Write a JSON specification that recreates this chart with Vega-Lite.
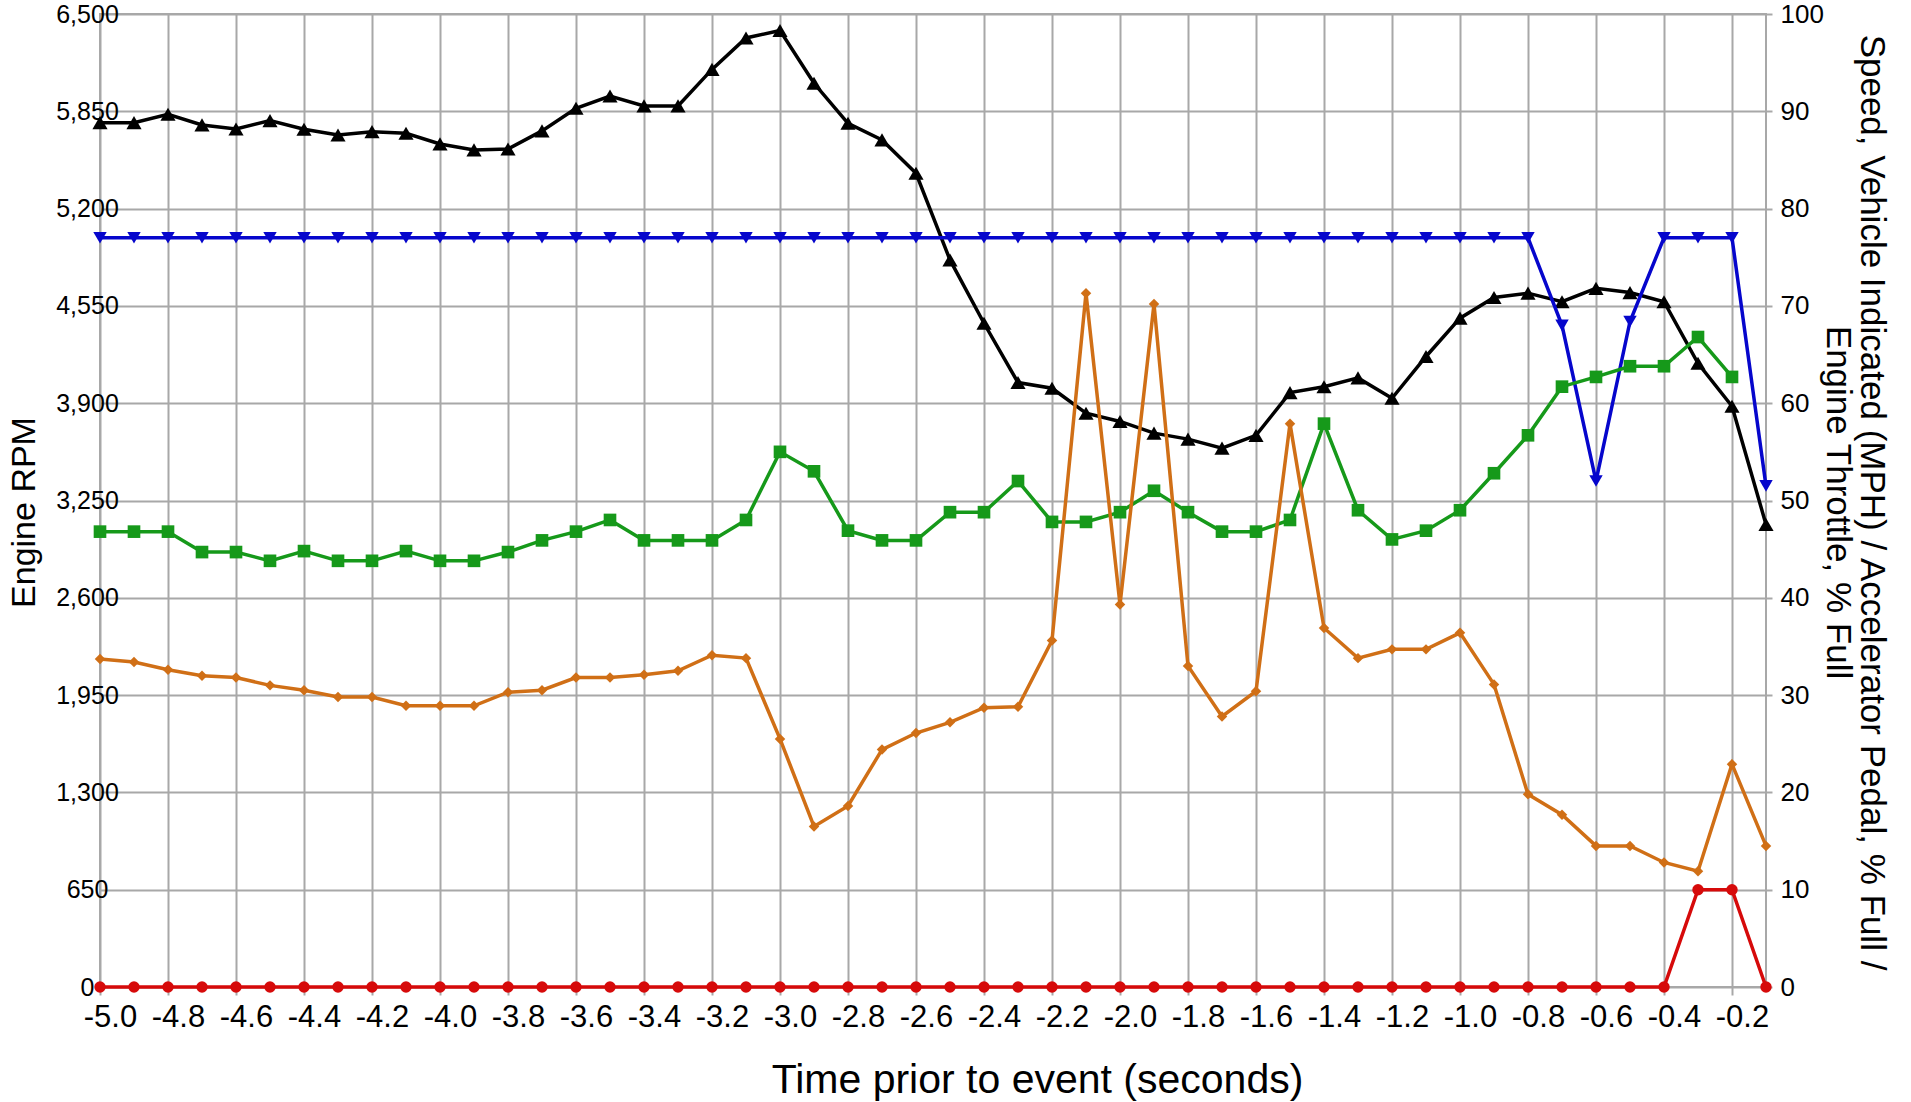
{
  "$schema": "https://vega.github.io/schema/vega-lite/v6.json",
  "width": 1666,
  "height": 973,
  "autosize": {"type": "none"},
  "padding": {"left": 100, "top": 14, "right": 145, "bottom": 115},
  "background": "white",
  "config": {
    "view": {"stroke": "#a8a8a8", "strokeWidth": 2},
    "axis": {
      "labelFont": "Liberation Sans Narrow, Liberation Sans",
      "titleFont": "Liberation Sans",
      "labelColor": "#000000",
      "titleColor": "#000000",
      "titleFontWeight": "normal",
      "domain": false,
      "gridColor": "#a8a8a8",
      "gridWidth": 2,
      "gridOpacity": 1,
      "tickColor": "#a8a8a8",
      "tickWidth": 2
    }
  },
  "datasets": {
    "rpm": [
      {"t": -5.0, "v": 5774}, {"t": -4.9, "v": 5774}, {"t": -4.8, "v": 5830}, {"t": -4.7, "v": 5759}, {"t": -4.6, "v": 5732},
      {"t": -4.5, "v": 5788}, {"t": -4.4, "v": 5730}, {"t": -4.3, "v": 5692}, {"t": -4.2, "v": 5714}, {"t": -4.1, "v": 5703},
      {"t": -4.0, "v": 5632}, {"t": -3.9, "v": 5592}, {"t": -3.8, "v": 5598}, {"t": -3.7, "v": 5719}, {"t": -3.6, "v": 5870},
      {"t": -3.5, "v": 5952}, {"t": -3.4, "v": 5886}, {"t": -3.3, "v": 5886}, {"t": -3.2, "v": 6130}, {"t": -3.1, "v": 6340},
      {"t": -3.0, "v": 6390}, {"t": -2.9, "v": 6037}, {"t": -2.8, "v": 5770}, {"t": -2.7, "v": 5659}, {"t": -2.6, "v": 5436},
      {"t": -2.5, "v": 4857}, {"t": -2.4, "v": 4434}, {"t": -2.3, "v": 4038}, {"t": -2.2, "v": 4000}, {"t": -2.1, "v": 3833},
      {"t": -2.0, "v": 3778}, {"t": -1.9, "v": 3700}, {"t": -1.8, "v": 3660}, {"t": -1.7, "v": 3600}, {"t": -1.6, "v": 3685},
      {"t": -1.5, "v": 3971}, {"t": -1.4, "v": 4010}, {"t": -1.3, "v": 4069}, {"t": -1.2, "v": 3933}, {"t": -1.1, "v": 4212},
      {"t": -1.0, "v": 4468}, {"t": -0.9, "v": 4606}, {"t": -0.8, "v": 4635}, {"t": -0.7, "v": 4578}, {"t": -0.6, "v": 4667},
      {"t": -0.5, "v": 4639}, {"t": -0.4, "v": 4578}, {"t": -0.3, "v": 4167}, {"t": -0.2, "v": 3880}, {"t": -0.1, "v": 3090}
    ],
    "speed": [
      {"t": -5.0, "v": 77}, {"t": -4.9, "v": 77}, {"t": -4.8, "v": 77}, {"t": -4.7, "v": 77}, {"t": -4.6, "v": 77},
      {"t": -4.5, "v": 77}, {"t": -4.4, "v": 77}, {"t": -4.3, "v": 77}, {"t": -4.2, "v": 77}, {"t": -4.1, "v": 77},
      {"t": -4.0, "v": 77}, {"t": -3.9, "v": 77}, {"t": -3.8, "v": 77}, {"t": -3.7, "v": 77}, {"t": -3.6, "v": 77},
      {"t": -3.5, "v": 77}, {"t": -3.4, "v": 77}, {"t": -3.3, "v": 77}, {"t": -3.2, "v": 77}, {"t": -3.1, "v": 77},
      {"t": -3.0, "v": 77}, {"t": -2.9, "v": 77}, {"t": -2.8, "v": 77}, {"t": -2.7, "v": 77}, {"t": -2.6, "v": 77},
      {"t": -2.5, "v": 77}, {"t": -2.4, "v": 77}, {"t": -2.3, "v": 77}, {"t": -2.2, "v": 77}, {"t": -2.1, "v": 77},
      {"t": -2.0, "v": 77}, {"t": -1.9, "v": 77}, {"t": -1.8, "v": 77}, {"t": -1.7, "v": 77}, {"t": -1.6, "v": 77},
      {"t": -1.5, "v": 77}, {"t": -1.4, "v": 77}, {"t": -1.3, "v": 77}, {"t": -1.2, "v": 77}, {"t": -1.1, "v": 77},
      {"t": -1.0, "v": 77}, {"t": -0.9, "v": 77}, {"t": -0.8, "v": 77}, {"t": -0.7, "v": 68}, {"t": -0.6, "v": 52},
      {"t": -0.5, "v": 68.4}, {"t": -0.4, "v": 77}, {"t": -0.3, "v": 77}, {"t": -0.2, "v": 77}, {"t": -0.1, "v": 51.5}
    ],
    "pedal": [
      {"t": -5.0, "v": 46.8}, {"t": -4.9, "v": 46.8}, {"t": -4.8, "v": 46.8}, {"t": -4.7, "v": 44.7}, {"t": -4.6, "v": 44.7},
      {"t": -4.5, "v": 43.8}, {"t": -4.4, "v": 44.8}, {"t": -4.3, "v": 43.8}, {"t": -4.2, "v": 43.8}, {"t": -4.1, "v": 44.8},
      {"t": -4.0, "v": 43.8}, {"t": -3.9, "v": 43.8}, {"t": -3.8, "v": 44.7}, {"t": -3.7, "v": 45.9}, {"t": -3.6, "v": 46.8},
      {"t": -3.5, "v": 48.0}, {"t": -3.4, "v": 45.9}, {"t": -3.3, "v": 45.9}, {"t": -3.2, "v": 45.9}, {"t": -3.1, "v": 48.0},
      {"t": -3.0, "v": 55.0}, {"t": -2.9, "v": 53.0}, {"t": -2.8, "v": 46.9}, {"t": -2.7, "v": 45.9}, {"t": -2.6, "v": 45.9},
      {"t": -2.5, "v": 48.8}, {"t": -2.4, "v": 48.8}, {"t": -2.3, "v": 52.0}, {"t": -2.2, "v": 47.8}, {"t": -2.1, "v": 47.8},
      {"t": -2.0, "v": 48.8}, {"t": -1.9, "v": 51.0}, {"t": -1.8, "v": 48.8}, {"t": -1.7, "v": 46.8}, {"t": -1.6, "v": 46.8},
      {"t": -1.5, "v": 48.0}, {"t": -1.4, "v": 57.9}, {"t": -1.3, "v": 49.0}, {"t": -1.2, "v": 46.0}, {"t": -1.1, "v": 46.9},
      {"t": -1.0, "v": 49.0}, {"t": -0.9, "v": 52.8}, {"t": -0.8, "v": 56.7}, {"t": -0.7, "v": 61.7}, {"t": -0.6, "v": 62.7},
      {"t": -0.5, "v": 63.8}, {"t": -0.4, "v": 63.8}, {"t": -0.3, "v": 66.8}, {"t": -0.2, "v": 62.7}
    ],
    "throttle": [
      {"t": -5.0, "v": 33.7}, {"t": -4.9, "v": 33.4}, {"t": -4.8, "v": 32.6}, {"t": -4.7, "v": 32.0}, {"t": -4.6, "v": 31.8},
      {"t": -4.5, "v": 31.0}, {"t": -4.4, "v": 30.5}, {"t": -4.3, "v": 29.8}, {"t": -4.2, "v": 29.8}, {"t": -4.1, "v": 28.9},
      {"t": -4.0, "v": 28.9}, {"t": -3.9, "v": 28.9}, {"t": -3.8, "v": 30.3}, {"t": -3.7, "v": 30.5}, {"t": -3.6, "v": 31.8},
      {"t": -3.5, "v": 31.8}, {"t": -3.4, "v": 32.1}, {"t": -3.3, "v": 32.5}, {"t": -3.2, "v": 34.1}, {"t": -3.1, "v": 33.8},
      {"t": -3.0, "v": 25.5}, {"t": -2.9, "v": 16.5}, {"t": -2.8, "v": 18.6}, {"t": -2.7, "v": 24.4}, {"t": -2.6, "v": 26.1},
      {"t": -2.5, "v": 27.2}, {"t": -2.4, "v": 28.7}, {"t": -2.3, "v": 28.8}, {"t": -2.2, "v": 35.6}, {"t": -2.1, "v": 71.3},
      {"t": -2.0, "v": 39.3}, {"t": -1.9, "v": 70.2}, {"t": -1.8, "v": 33.0}, {"t": -1.7, "v": 27.8}, {"t": -1.6, "v": 30.4},
      {"t": -1.5, "v": 57.9}, {"t": -1.4, "v": 36.9}, {"t": -1.3, "v": 33.8}, {"t": -1.2, "v": 34.7}, {"t": -1.1, "v": 34.7},
      {"t": -1.0, "v": 36.4}, {"t": -0.9, "v": 31.1}, {"t": -0.8, "v": 19.8}, {"t": -0.7, "v": 17.7}, {"t": -0.6, "v": 14.5},
      {"t": -0.5, "v": 14.5}, {"t": -0.4, "v": 12.8}, {"t": -0.3, "v": 11.9}, {"t": -0.2, "v": 22.9}, {"t": -0.1, "v": 14.5}
    ],
    "brake": [
      {"t": -5.0, "v": 0}, {"t": -4.9, "v": 0}, {"t": -4.8, "v": 0}, {"t": -4.7, "v": 0}, {"t": -4.6, "v": 0},
      {"t": -4.5, "v": 0}, {"t": -4.4, "v": 0}, {"t": -4.3, "v": 0}, {"t": -4.2, "v": 0}, {"t": -4.1, "v": 0},
      {"t": -4.0, "v": 0}, {"t": -3.9, "v": 0}, {"t": -3.8, "v": 0}, {"t": -3.7, "v": 0}, {"t": -3.6, "v": 0},
      {"t": -3.5, "v": 0}, {"t": -3.4, "v": 0}, {"t": -3.3, "v": 0}, {"t": -3.2, "v": 0}, {"t": -3.1, "v": 0},
      {"t": -3.0, "v": 0}, {"t": -2.9, "v": 0}, {"t": -2.8, "v": 0}, {"t": -2.7, "v": 0}, {"t": -2.6, "v": 0},
      {"t": -2.5, "v": 0}, {"t": -2.4, "v": 0}, {"t": -2.3, "v": 0}, {"t": -2.2, "v": 0}, {"t": -2.1, "v": 0},
      {"t": -2.0, "v": 0}, {"t": -1.9, "v": 0}, {"t": -1.8, "v": 0}, {"t": -1.7, "v": 0}, {"t": -1.6, "v": 0},
      {"t": -1.5, "v": 0}, {"t": -1.4, "v": 0}, {"t": -1.3, "v": 0}, {"t": -1.2, "v": 0}, {"t": -1.1, "v": 0},
      {"t": -1.0, "v": 0}, {"t": -0.9, "v": 0}, {"t": -0.8, "v": 0}, {"t": -0.7, "v": 0}, {"t": -0.6, "v": 0},
      {"t": -0.5, "v": 0}, {"t": -0.4, "v": 0}, {"t": -0.3, "v": 10}, {"t": -0.2, "v": 10}, {"t": -0.1, "v": 0}
    ]
  },
  "encoding": {
    "x": {
      "field": "t",
      "type": "quantitative",
      "scale": {"domain": [-5.0, -0.1], "nice": false, "zero": false},
      "axis": {
        "values": [-5.0, -4.8, -4.6, -4.4, -4.2, -4.0, -3.8, -3.6, -3.4, -3.2, -3.0, -2.8, -2.6, -2.4, -2.2, -2.0, -1.8, -1.6, -1.4, -1.2, -1.0, -0.8, -0.6, -0.4, -0.2],
        "format": ".1f",
        "labelExpr": "replace(datum.label, '\u2212', '-')",
        "labelFontSize": 31,
        "labelOffset": 10,
        "labelPadding": 7,
        "labelFlush": false,
        "labelOverlap": false,
        "tickSize": 8,
        "grid": true,
        "title": "Time prior to event (seconds)",
        "titleFontSize": 41,
        "titleX": 937,
        "titleY": 105,
        "titleAlign": "center",
        "titleBaseline": "alphabetic"
      }
    }
  },
  "layer": [
    {
      "data": {"name": "rpm"},
      "encoding": {
        "y": {
          "field": "v",
          "type": "quantitative",
          "scale": {"domain": [0, 6500], "nice": false, "zero": true},
          "axis": {
            "orient": "left",
            "values": [0, 650, 1300, 1950, 2600, 3250, 3900, 4550, 5200, 5850, 6500],
            "format": ",d",
            "labelFontSize": 25,
            "ticks": false,
            "labelAlign": "center",
            "labelPadding": 13,
            "labelFlush": false,
            "labelOverlap": false,
            "grid": true,
            "title": "Engine RPM",
            "titleFontSize": 34,
            "titleX": -76,
            "titleY": 498,
            "titleAngle": 270,
            "titleAlign": "center",
            "titleBaseline": "middle"
          }
        }
      },
      "layer": [
        {"mark": {"type": "line", "color": "#000000", "strokeWidth": 3.5}},
        {"mark": {"type": "point", "shape": "triangle-up", "filled": true, "color": "#000000", "size": 230, "opacity": 1}}
      ]
    },
    {
      "encoding": {
        "y": {
          "field": "v",
          "type": "quantitative",
          "scale": {"domain": [0, 100], "nice": false, "zero": true},
          "axis": {
            "orient": "right",
            "values": [0, 10, 20, 30, 40, 50, 60, 70, 80, 90, 100],
            "labelFontSize": 26,
            "tickSize": 6,
            "labelPadding": 8,
            "labelFlush": false,
            "labelOverlap": false,
            "grid": false,
            "title": ["Speed, Vehicle Indicated (MPH) / Accelerator Pedal, % Full /", "Engine Throttle, % Full"],
            "titleFontSize": 35,
            "titleLineHeight": 34,
            "titleX": 105,
            "titleY": 488,
            "titleAngle": 90,
            "titleAlign": "center",
            "titleBaseline": "middle"
          }
        }
      },
      "layer": [
        {"data": {"name": "speed"}, "mark": {"type": "line", "color": "#0606cc", "strokeWidth": 3.5}},
        {"data": {"name": "speed"}, "mark": {"type": "point", "shape": "triangle-down", "filled": true, "color": "#0606cc", "size": 180, "opacity": 1}},
        {"data": {"name": "pedal"}, "mark": {"type": "line", "color": "#16991a", "strokeWidth": 3.5}},
        {"data": {"name": "pedal"}, "mark": {"type": "point", "shape": "square", "filled": true, "color": "#16991a", "size": 160, "opacity": 1}},
        {"data": {"name": "throttle"}, "mark": {"type": "line", "color": "#d06f16", "strokeWidth": 3.5}},
        {"data": {"name": "throttle"}, "mark": {"type": "point", "shape": "diamond", "filled": true, "color": "#d06f16", "size": 110, "opacity": 1}},
        {"data": {"name": "brake"}, "mark": {"type": "line", "color": "#d60a0a", "strokeWidth": 3.5}},
        {"data": {"name": "brake"}, "mark": {"type": "point", "shape": "circle", "filled": true, "color": "#d60a0a", "size": 130, "opacity": 1}}
      ]
    }
  ],
  "resolve": {"scale": {"y": "independent"}, "axis": {"y": "independent"}}
}
